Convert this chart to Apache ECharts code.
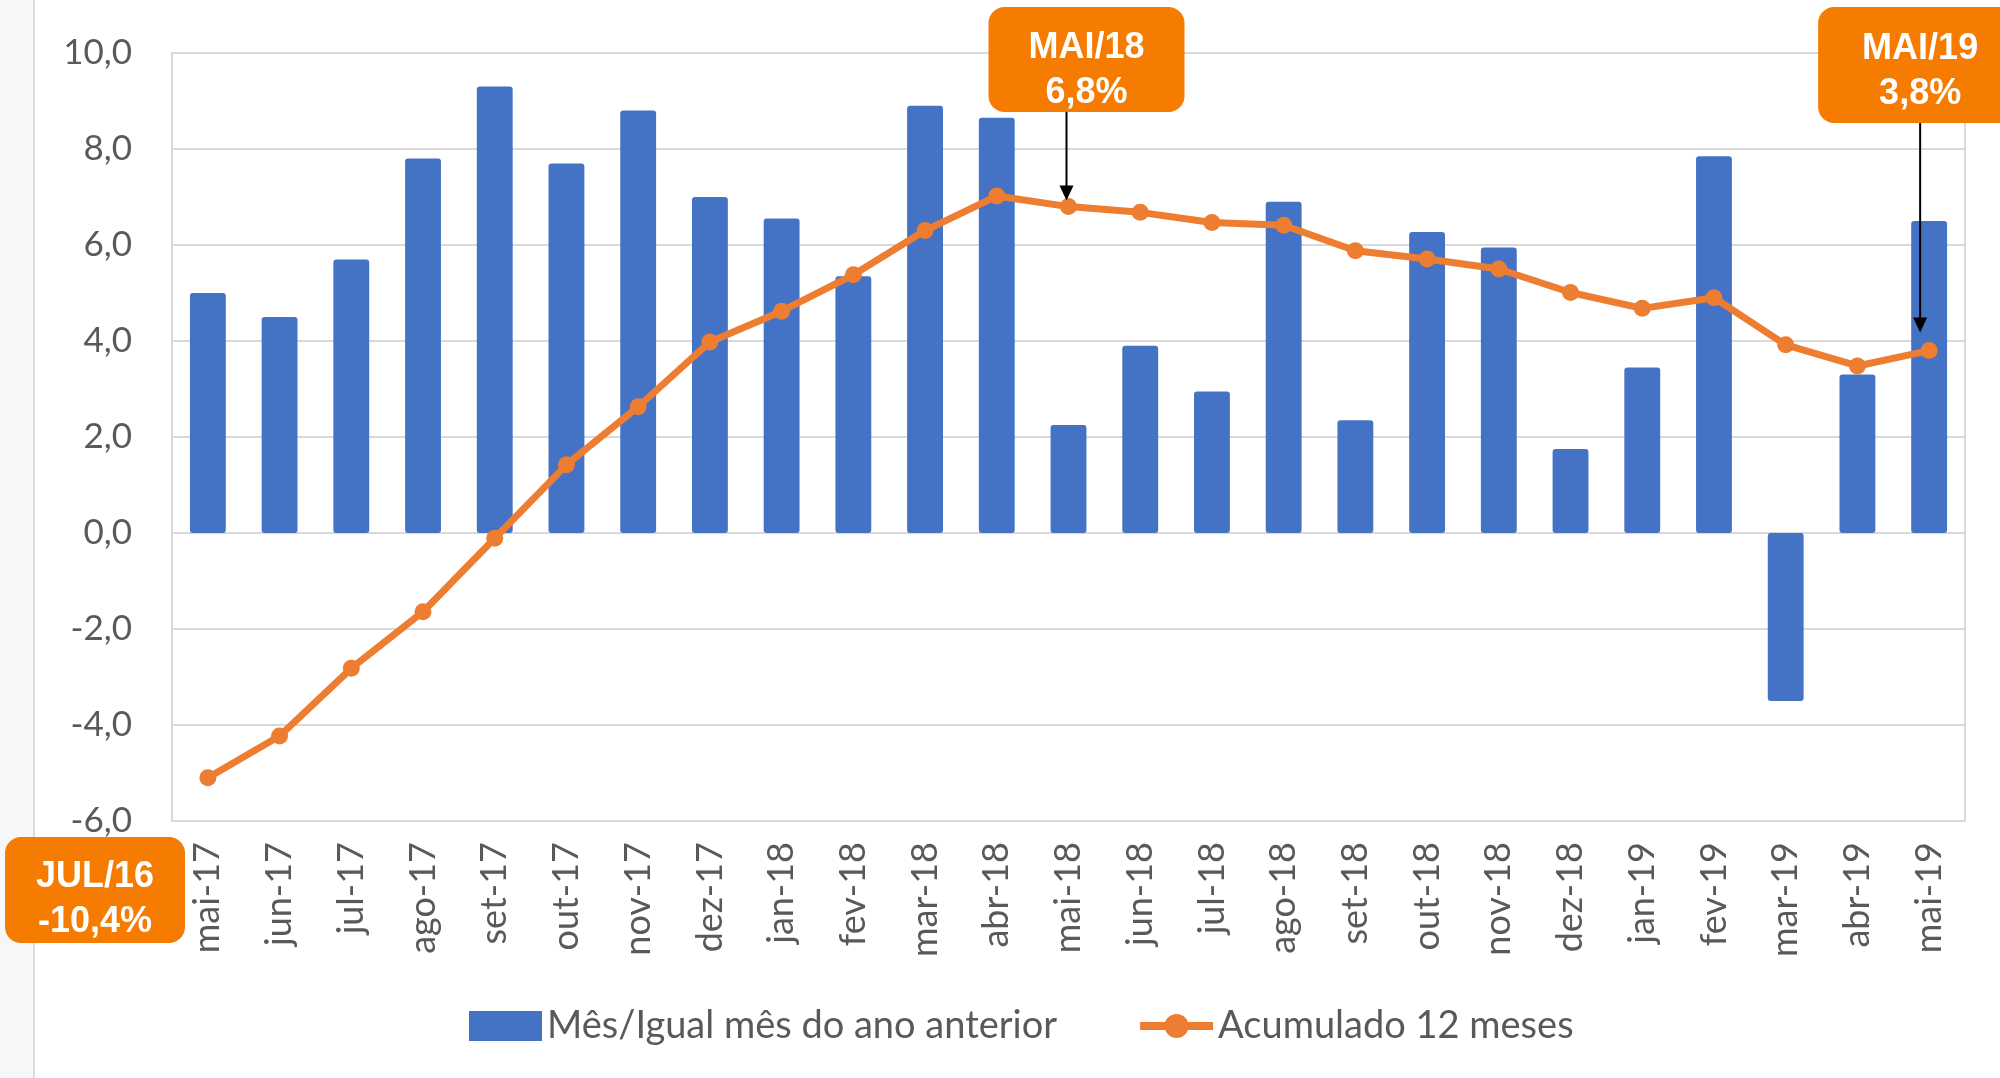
<!DOCTYPE html>
<html><head><meta charset="utf-8">
<script src="https://cdn.jsdelivr.net/npm/echarts@6/dist/echarts.min.js"></script>
<style>html,body{margin:0;padding:0;background:#fff}#c{width:2000px;height:1078px}</style>
</head><body><div id="c"></div>
<script>
const categories = ['mai-17','jun-17','jul-17','ago-17','set-17','out-17','nov-17','dez-17','jan-18','fev-18','mar-18','abr-18','mai-18','jun-18','jul-18','ago-18','set-18','out-18','nov-18','dez-18','jan-19','fev-19','mar-19','abr-19','mai-19'];
const mensal = [5.0,4.5,5.7,7.8,9.3,7.7,8.8,7.0,6.55,5.35,8.9,8.65,2.25,3.9,2.95,6.9,2.35,6.27,5.95,1.75,3.45,7.85,-3.5,3.3,6.5];
const acumulado = [-5.1,-4.23,-2.82,-1.64,-0.11,1.42,2.63,3.98,4.62,5.38,6.3,7.02,6.8,6.68,6.47,6.41,5.88,5.71,5.5,5.01,4.68,4.9,3.92,3.48,3.8];
const seriesNames = ['Mês/Igual mês do ano anterior','Acumulado 12 meses'];
const yMin = -6, yMax = 10, yStep = 2;
const notes = [
  {title:'MAI/18', value:'6,8%', cat:'mai-18'},
  {title:'MAI/19', value:'3,8%', cat:'mai-19'},
  {title:'JUL/16', value:'-10,4%', cat:null}
];

const chart = echarts.init(document.getElementById('c'), null, {renderer:'canvas'});
const axisFont = 'Lato, "Open Sans", sans-serif';
const option = {
  animation:false,
  backgroundColor:'#fff',
  grid:{left:172,right:35,top:53,bottom:257,show:true,borderColor:'#d9d9d9',borderWidth:2,backgroundColor:'#fff'},
  legend:{
    left:469, top:1007, padding:0, itemWidth:73, itemHeight:30, itemGap:79,
    textStyle:{fontSize:38,color:'#595959',fontFamily:axisFont},
    data:[{name:seriesNames[0],icon:'rect'},{name:seriesNames[1],lineStyle:{width:8}}]
  },
  xAxis:{
    type:'category', data:categories,
    axisLine:{show:false,onZero:false}, axisTick:{show:false},
    axisLabel:{rotate:90,interval:0,margin:21,fontSize:36,color:'#595959',fontFamily:axisFont}
  },
  yAxis:{
    type:'value', min:yMin, max:yMax, interval:yStep,
    axisLine:{show:false}, axisTick:{show:false},
    splitLine:{lineStyle:{color:'#d9d9d9',width:2}},
    axisLabel:{margin:40,fontSize:35,color:'#595959',fontFamily:axisFont,
      formatter:v=>v.toFixed(1).replace('.',',')}
  },
  series:[
    {name:seriesNames[0],type:'bar',data:mensal,barWidth:'50%',
     itemStyle:{color:'#4472C4',borderRadius:3}},
    {name:seriesNames[1],type:'line',data:acumulado,symbol:'circle',symbolSize:17,
     lineStyle:{color:'#ED7D31',width:7},itemStyle:{color:'#ED7D31'},z:5}
  ]
};
chart.setOption(option);

function pt(cat){
  const i = categories.indexOf(cat);
  return chart.convertToPixel({seriesIndex:1},[i,acumulado[i]]);
}
const orange = '#F57C00';
const boxFont = '"Liberation Sans", Arial, sans-serif';
function box(x,y,w,h,cx,cy,n){
  return [
    {type:'rect',shape:{x:x,y:y,width:w,height:h,r:16},style:{fill:orange},z:20},
    {type:'text',x:cx,y:cy,z:21,style:{text:n.title+'\n'+n.value,fill:'#fff',font:'bold 36px '+boxFont,
      textAlign:'center',textVerticalAlign:'middle',lineHeight:45}}
  ];
}
function arrow(x,y1,y2){
  return [
    {type:'line',shape:{x1:x,y1:y1,x2:x,y2:y2-14},style:{stroke:'#000',lineWidth:2},z:19},
    {type:'polygon',shape:{points:[[x-7,y2-15],[x+7,y2-15],[x,y2]]},style:{fill:'#000'},z:19}
  ];
}
const p1 = pt(notes[0].cat), p2 = pt(notes[1].cat);
const g = [
  {type:'rect',shape:{x:0,y:0,width:34,height:1078},style:{fill:'#f6f7f9'},z:-1},
  {type:'line',shape:{x1:34,y1:0,x2:34,y2:1078},style:{stroke:'#dcdcdc',lineWidth:2},z:-1}
];
g.push(...box(p1[0]-80,7,196,105,p1[0]+18,71,notes[0]));
g.push(...arrow(p1[0]-2,112,p1[1]-6));
g.push(...box(p2[0]-111,7,200,116,p2[0]-9,72,notes[1]));
g.push(...arrow(p2[0]-9,123,p2[1]-18));
g.push(...box(5,837,180,106,95,900,notes[2]));
chart.setOption({graphic:g});
</script></body></html>
